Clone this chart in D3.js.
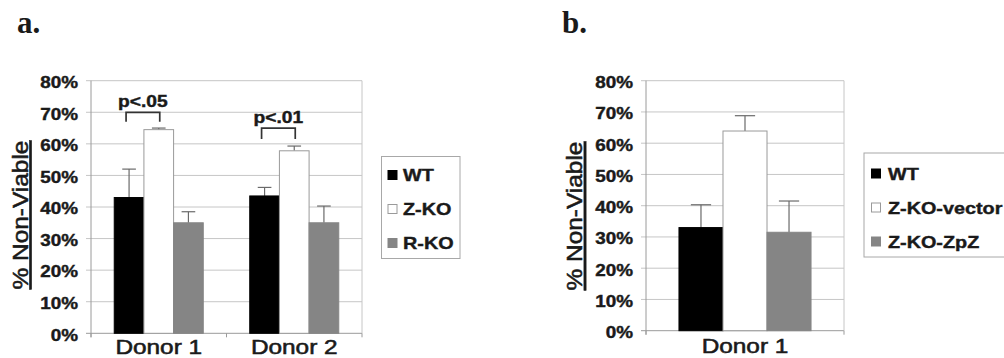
<!DOCTYPE html>
<html>
<head>
<meta charset="utf-8">
<script src="https://cdn.jsdelivr.net/npm/d3@7"></script>
<style>
  html, body { margin: 0; padding: 0; background: #fff; }
  svg { display: block; }
  text { font-family: "Liberation Sans", Arial, sans-serif; fill: #1a1a1a; }
</style>
</head>
<body>
<script>
// panel a data
var aCategories = ["Donor 1", "Donor 2"];
var aSeries = ["WT", "Z-KO", "R-KO"];
var aMeans = [[43, 64.5, 35], [43.5, 57.8, 35]];
var aErrors = [[9, 0.5, 3.5], [2.7, 1.5, 5.3]];
var aSignif = [
  {cat: "Donor 1", from: "WT", to: "Z-KO", top: 70, foot: 67, label: "p<.05"},
  {cat: "Donor 2", from: "WT", to: "Z-KO", top: 65, foot: 61.5, label: "p<.01"}
];

// panel b data
var bCategories = ["Donor 1"];
var bSeries = ["WT", "Z-KO-vector", "Z-KO-ZpZ"];
var bMeans = [[33, 63.9, 31.5]];
var bErrors = [[7.3, 4.9, 10]];

var yTicks = [0, 10, 20, 30, 40, 50, 60, 70, 80];
var seriesColors = ["#000000", "#ffffff", "#858585"];
var seriesStroke = ["#000000", "#9a9a9a", "#858585"];

var W = 1004, H = 358;
var SX = 1.2; // the figure is stretched sideways a little

var svg = d3.select("body").append("svg").attr("width", W).attr("height", H);

// text that is scaled horizontally like the source image
function wideText(g, x, y, str, size, weight, anchor, k, thick) {
  return g.append("text")
    .attr("transform", "translate(" + x + "," + y + ") scale(" + (k || SX) + ",1)")
    .attr("font-size", size)
    .attr("font-weight", weight || "normal")
    .attr("text-anchor", anchor || "start")
    .attr("stroke", "#1a1a1a").attr("stroke-width", thick || 0.35)
    .text(str);
}

function drawPanel(p) {
  var g = svg.append("g");

  var y = d3.scaleLinear().domain([0, 80]).range([p.y1, p.y0]);
  var x = d3.scaleBand().domain(p.categories).range([p.x0, p.x1])
    .paddingInner(p.pad).paddingOuter(p.pad / 2);
  var xs = d3.scaleBand().domain(p.series).range([0, x.bandwidth()]);
  var bw = xs.bandwidth();

  // panel letter
  g.append("text").attr("x", p.title.x).attr("y", p.title.y)
    .attr("font-weight", "bold").attr("font-size", 31)
    .style("font-family", "'Liberation Serif', 'Times New Roman', serif")
    .text(p.title.text);

  // gridlines
  g.selectAll(".grid").data(yTicks).enter().append("line")
    .attr("x1", p.x0 - 5).attr("x2", p.x1)
    .attr("y1", function(d) { return y(d); }).attr("y2", function(d) { return y(d); })
    .attr("stroke", function(d) { return d === 0 ? "#9a9a9a" : "#c6c6c6"; })
    .attr("stroke-width", 1);

  // frame right side + y axis line
  g.append("line").attr("x1", p.x1).attr("x2", p.x1).attr("y1", y(80)).attr("y2", y(0))
    .attr("stroke", "#c6c6c6");
  g.append("line").attr("x1", p.x0).attr("x2", p.x0).attr("y1", y(80)).attr("y2", y(0) + 4)
    .attr("stroke", "#9a9a9a");

  // category separators on the x axis
  var edges = [p.x0].concat(p.categories.map(function(c) { return x(c) + x.bandwidth() / 2 + x.step() / 2; }));
  g.selectAll(".xtick").data(edges).enter().append("line")
    .attr("x1", function(d) { return d; }).attr("x2", function(d) { return d; })
    .attr("y1", y(0)).attr("y2", y(0) + 4)
    .attr("stroke", "#9a9a9a");

  // y tick labels
  yTicks.forEach(function(t) {
    wideText(g, p.x0 - 13, y(t) + 7.3, t + "%", 16, "bold", "end", 1.18, 0.4);
  });

  // y title
  g.append("text")
    .attr("transform", "translate(" + p.yTitle.x + "," + p.yTitle.y + ") rotate(-90) scale(1.32," + SX + ")")
    .attr("font-size", 18.5)
    .attr("text-anchor", "middle")
    .attr("stroke", "#1a1a1a").attr("stroke-width", 0.45)
    .style("text-decoration", "underline")
    .text("% Non-Viable");

  // bars
  p.categories.forEach(function(cat, ci) {
    var gx = x(cat);
    p.series.forEach(function(s, si) {
      var v = p.means[ci][si];
      var e = p.errors[ci][si];
      var bx = gx + xs(s);
      var cx = bx + bw / 2;
      // error bar (upper half only)
      g.append("line").attr("x1", cx).attr("x2", cx).attr("y1", y(v)).attr("y2", y(v + e))
        .attr("stroke", "#6a6a6a").attr("stroke-width", 1.2);
      g.append("line").attr("x1", cx - bw * 0.23).attr("x2", cx + bw * 0.23)
        .attr("y1", y(v + e)).attr("y2", y(v + e))
        .attr("stroke", "#6a6a6a").attr("stroke-width", 1.2);
      g.append("rect")
        .attr("x", bx).attr("y", y(v))
        .attr("width", bw).attr("height", y(0) - y(v))
        .attr("fill", seriesColors[si])
        .attr("stroke", seriesStroke[si]).attr("stroke-width", 1);
    });
    wideText(g, gx + x.bandwidth() / 2, p.catY, cat, 20, "normal", "middle", 1.22, 0.55);
  });

  // significance brackets
  (p.signif || []).forEach(function(sg) {
    var l = x(sg.cat) + xs(sg.from) + bw / 2 - 3;
    var r = x(sg.cat) + xs(sg.to) + bw / 2 + 1;
    g.append("path")
      .attr("d", "M" + l + "," + y(sg.foot) + "V" + y(sg.top) + "H" + r + "V" + y(sg.foot))
      .attr("fill", "none").attr("stroke", "#333").attr("stroke-width", 1.7);
    wideText(g, (l + r) / 2, y(sg.top) - 5, sg.label, 16, "bold", "middle", SX, 0.4);
  });

  // legend
  var L = p.legend;
  g.append("rect").attr("x", L.x).attr("y", L.y).attr("width", L.w).attr("height", L.h)
    .attr("fill", "#fff").attr("stroke", "#a8a8a8").attr("stroke-width", 1);
  p.series.forEach(function(s, si) {
    var ry = L.row0 + si * L.step;
    g.append("rect").attr("x", L.markX).attr("y", ry - 4.5).attr("width", 9).attr("height", 9)
      .attr("fill", seriesColors[si]).attr("stroke", seriesStroke[si]);
    wideText(g, L.textX, ry + 6, s, 16.5, "bold", "start", SX, 0.4);
  });
}

drawPanel({
  categories: aCategories, series: aSeries, means: aMeans, errors: aErrors, signif: aSignif,
  x0: 91, x1: 362, y0: 80.7, y1: 333.3, pad: 0.343, catY: 354,
  title: {x: 17, y: 33, text: "a."},
  yTitle: {x: 27.5, y: 215},
  legend: {x: 381.5, y: 156.5, w: 78.5, h: 102, row0: 175, step: 34, markX: 388, textX: 403}
});

drawPanel({
  categories: bCategories, series: bSeries, means: bMeans, errors: bErrors,
  x0: 646, x1: 844, y0: 80.7, y1: 330.7, pad: 0.333, catY: 353,
  title: {x: 562, y: 33, text: "b."},
  yTitle: {x: 582, y: 216},
  legend: {x: 864, y: 153, w: 150, h: 104, row0: 173.5, step: 34, markX: 871.5, textX: 888}
});
</script>
</body>
</html>
